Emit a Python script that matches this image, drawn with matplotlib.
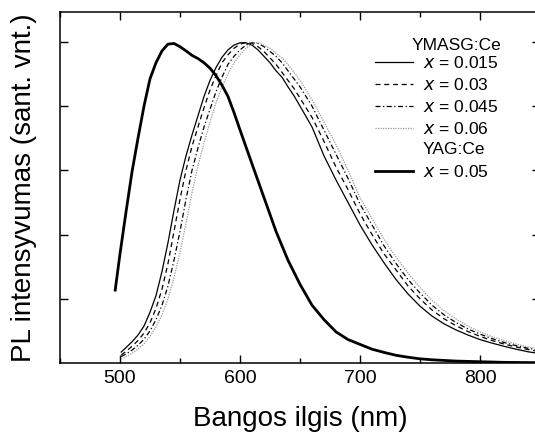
import matplotlib
matplotlib.use("Agg")
import matplotlib.pyplot as plt
from matplotlib.ticker import MultipleLocator

plt.rcParams['font.family'] = ['Liberation Sans', 'DejaVu Sans']

# ---- data ----
wl_ymasg = [501, 505, 510, 515, 520, 525, 530, 535, 540, 545, 550, 555, 560, 565, 570,
            575, 580, 585, 590, 595, 600, 605, 610, 615, 620, 625, 630, 635, 640, 645,
            650, 660, 670, 680, 690, 700, 710, 720, 730, 740, 750, 760, 770, 780, 790,
            800, 810, 820, 830, 840, 850]
y_x0015 = [0.034, 0.048, 0.066, 0.087, 0.115, 0.158, 0.21, 0.285, 0.375, 0.475, 0.57,
           0.645, 0.71, 0.77, 0.83, 0.88, 0.92, 0.952, 0.975, 0.99, 0.997, 0.997, 0.99,
           0.975, 0.955, 0.935, 0.91, 0.89, 0.86, 0.832, 0.80, 0.735, 0.645, 0.57, 0.50,
           0.43, 0.368, 0.312, 0.26, 0.215, 0.177, 0.146, 0.122, 0.103, 0.087, 0.073,
           0.062, 0.052, 0.043, 0.035, 0.029]
y_x003 = [0.025, 0.036, 0.052, 0.07, 0.093, 0.125, 0.17, 0.23, 0.31, 0.41, 0.51, 0.60,
          0.675, 0.735, 0.795, 0.85, 0.895, 0.935, 0.96, 0.98, 0.993, 0.998, 0.995, 0.985,
          0.97, 0.95, 0.93, 0.905, 0.88, 0.855, 0.825, 0.765, 0.69, 0.61, 0.54, 0.465,
          0.40, 0.34, 0.29, 0.24, 0.20, 0.165, 0.138, 0.116, 0.098, 0.083, 0.07, 0.059,
          0.05, 0.042, 0.035]
y_x0045 = [0.02, 0.028, 0.04, 0.055, 0.074, 0.10, 0.135, 0.18, 0.24, 0.32, 0.41, 0.51,
           0.60, 0.67, 0.735, 0.79, 0.845, 0.89, 0.93, 0.955, 0.975, 0.99, 0.997, 0.995,
           0.985, 0.97, 0.955, 0.935, 0.91, 0.885, 0.86, 0.80, 0.725, 0.65, 0.575, 0.495,
           0.43, 0.365, 0.31, 0.26, 0.218, 0.18, 0.15, 0.126, 0.106, 0.09, 0.076, 0.064,
           0.054, 0.046, 0.039]
y_x006 = [0.012, 0.02, 0.03, 0.043, 0.06, 0.083, 0.113, 0.15, 0.20, 0.265, 0.345, 0.435,
          0.53, 0.615, 0.685, 0.75, 0.81, 0.86, 0.90, 0.935, 0.96, 0.98, 0.993, 0.998,
          0.99, 0.98, 0.965, 0.95, 0.93, 0.905, 0.88, 0.82, 0.75, 0.68, 0.60, 0.515,
          0.45, 0.385, 0.33, 0.28, 0.235, 0.195, 0.163, 0.137, 0.115, 0.097, 0.082, 0.07,
          0.059, 0.05, 0.043]

wl_yag = [496, 500, 505, 510, 515, 520, 525, 530, 535, 540, 545, 550, 555, 560, 565, 570,
          575, 580, 585, 590, 595, 600, 610, 620, 630, 640, 650, 660, 670, 680, 690, 700,
          710, 720, 730, 740, 750, 760, 770, 780, 800, 820, 850]
y_yag = [0.227, 0.34, 0.47, 0.595, 0.70, 0.80, 0.885, 0.935, 0.972, 0.993, 0.995, 0.985,
         0.972, 0.958, 0.948, 0.935, 0.918, 0.895, 0.865, 0.83, 0.78, 0.726, 0.62, 0.515,
         0.41, 0.32, 0.245, 0.18, 0.135, 0.097, 0.073, 0.058, 0.043, 0.033, 0.024, 0.018,
         0.013, 0.01, 0.008, 0.006, 0.004, 0.002, 0.001]

labels_ymasg = ['x = 0.015', 'x = 0.03', 'x = 0.045', 'x = 0.06']
label_yag = 'x = 0.05'
title_ymasg = 'YMASG:Ce'
title_yag = 'YAG:Ce'
xticks = [500, 600, 700, 800]

# ---- figure ----
fig = plt.figure(figsize=(5.35, 4.37), dpi=100)
ax = fig.add_axes([60/535, 74/437, 480/535, 351/437])

styles = [
    dict(color='black', lw=0.9, ls='-'),
    dict(color='black', lw=0.9, ls=(0, (4, 3))),
    dict(color='black', lw=0.9, ls=(0, (4, 2, 1, 2))),
    dict(color='0.6', lw=0.9, ls=(0, (1, 1))),
]
series = [y_x0015, y_x003, y_x0045, y_x006]
handles = []
for ys, st in zip(series, styles):
    h, = ax.plot(wl_ymasg, ys, **st)
    handles.append(h)
hy, = ax.plot(wl_yag, y_yag, color='black', lw=2.0)

ax.set_xlim(450, 850)
ax.set_ylim(0, 1.093)
ax.set_xticks(xticks)
ax.xaxis.set_minor_locator(MultipleLocator(50))
ax.set_yticks([0.2, 0.4, 0.6, 0.8, 1.0])
ax.set_yticklabels([])
ax.tick_params(axis='both', which='both', direction='in', top=True, right=True,
               width=1.0, colors='black')
ax.tick_params(axis='both', which='major', length=6)
ax.tick_params(axis='x', which='minor', length=3.5)
ax.tick_params(axis='x', labelsize=14, pad=5)
for sp in ax.spines.values():
    sp.set_linewidth(1.1)

ax.set_xlabel('Bangos ilgis (nm)', fontsize=20, labelpad=14)
ax.set_ylabel('PL intensyvumas (sant. vnt.)', fontsize=20, labelpad=13)

def mk(l):
    return l.replace('x', '$x$', 1)

common = dict(frameon=False, fontsize=12.5, borderpad=0, handlelength=2.2,
              handletextpad=0.57, labelspacing=0.33, borderaxespad=0)
leg1 = ax.legend(handles, [mk(l) for l in labels_ymasg], loc='center left',
                 bbox_to_anchor=((375-60)/480, (363-96)/351), **common)
ax.add_artist(leg1)
leg2 = ax.legend([hy], [mk(label_yag)], loc='center left',
                 bbox_to_anchor=((375-60)/480, (363-172)/351), **common)
ax.text((456-60)/480, (363-45)/351, title_ymasg, transform=ax.transAxes,
        ha='center', va='center', fontsize=12.5)
ax.text((454-60)/480, (363-150)/351, title_yag, transform=ax.transAxes,
        ha='center', va='center', fontsize=12.5)

fig.savefig('out.png', dpi=100)
